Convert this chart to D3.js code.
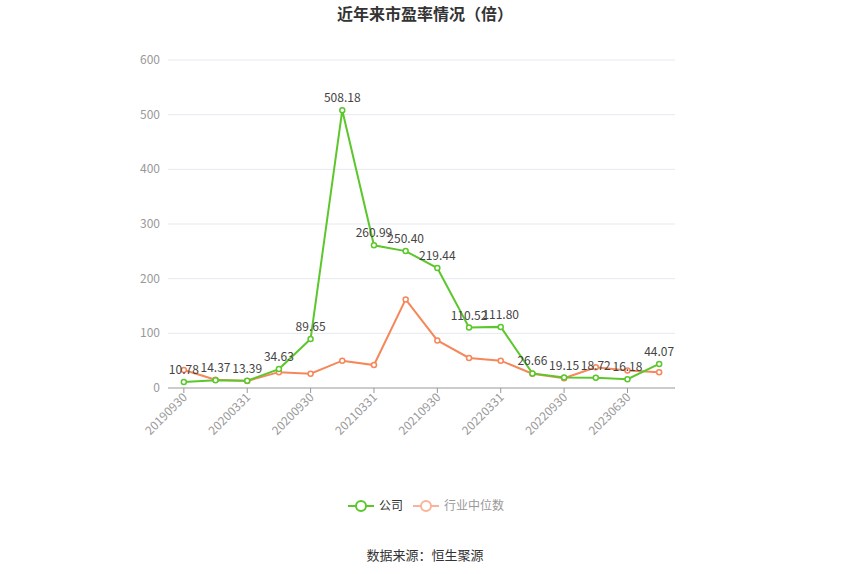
<!DOCTYPE html><html><head><meta charset="utf-8"><script src="https://cdn.jsdelivr.net/npm/d3@7"></script>
<style>body{margin:0;background:#fff;font-family:"Noto Sans CJK SC","Noto Sans",sans-serif}</style></head><body><svg id="c" width="850" height="574"></svg><script>
const categories=["20190930","20191231","20200331","20200630","20200930","20201231","20210331","20210630","20210930","20211231","20220331","20220630","20220930","20230331","20230630","20230930"];
const company=[10.78,14.37,13.39,34.63,89.65,508.18,260.99,250.40,219.44,110.52,111.80,26.66,19.15,18.72,16.18,44.07];
const industry=[33,15,13,29,26,50,42,162,87,55,50,26,18,38,32,29];
const yTicks=[0,100,200,300,400,500,600];
const svg=d3.select("#c");
const x=d3.scaleBand().domain(categories).range([168,675]);
const y=d3.scaleLinear().domain([0,600]).range([388,60]);
const cx=d=>x(d)+x.bandwidth()/2;
svg.append("text").attr("x",425).attr("y",20).attr("text-anchor","middle").attr("font-size",16).attr("font-weight","bold").attr("fill","#333").text("近年来市盈率情况（倍）");
yTicks.forEach(t=>{svg.append("line").attr("x1",168).attr("x2",675).attr("y1",y(t)).attr("y2",y(t)).attr("stroke",t?"#e6e9f0":"#999");
svg.append("text").attr("x",160).attr("y",y(t)+4).attr("text-anchor","end").attr("font-size",12).attr("fill","#999").text(t);});
categories.forEach((c,i)=>{if(i%2==0){svg.append("line").attr("x1",cx(c)).attr("x2",cx(c)).attr("y1",388).attr("y2",393).attr("stroke","#999");
svg.append("text").attr("transform",`translate(${cx(c)+4},${398}) rotate(-45)`).attr("text-anchor","end").attr("font-size",12).attr("fill","#999").text(c);}});
function series(vals,col,labels){
const line=d3.line().x((d,i)=>cx(categories[i])).y(d=>y(d));
svg.append("path").attr("d",line(vals)).attr("fill","none").attr("stroke",col).attr("stroke-width",2);
vals.forEach((v,i)=>{svg.append("circle").attr("cx",cx(categories[i])).attr("cy",y(v)).attr("r",2.5).attr("fill","#fff").attr("stroke",col).attr("stroke-width",1.5);
if(labels)svg.append("text").attr("x",cx(categories[i])).attr("y",y(v)-8).attr("text-anchor","middle").attr("font-size",12).attr("fill","#444").text(v.toFixed(2));});}
series(industry,"#f5875a",false);
series(company,"#5cc72c",true);
svg.append("line").attr("x1",348).attr("x2",374).attr("y1",506).attr("y2",506).attr("stroke","#5cc72c").attr("stroke-width",2);
svg.append("circle").attr("cx",361).attr("cy",506).attr("r",5).attr("fill","#fff").attr("stroke","#5cc72c").attr("stroke-width",2);
svg.append("text").attr("x",379).attr("y",510).attr("font-size",12).attr("fill","#333").text("公司");
svg.append("line").attr("x1",413).attr("x2",439).attr("y1",506).attr("y2",506).attr("stroke","#f9b39a").attr("stroke-width",2);
svg.append("circle").attr("cx",426).attr("cy",506).attr("r",5).attr("fill","#fff").attr("stroke","#f9b39a").attr("stroke-width",2);
svg.append("text").attr("x",444).attr("y",510).attr("font-size",12).attr("fill","#999").text("行业中位数");
svg.append("text").attr("x",425).attr("y",560).attr("text-anchor","middle").attr("font-size",13).attr("fill","#333").text("数据来源：恒生聚源");
</script></body></html>
